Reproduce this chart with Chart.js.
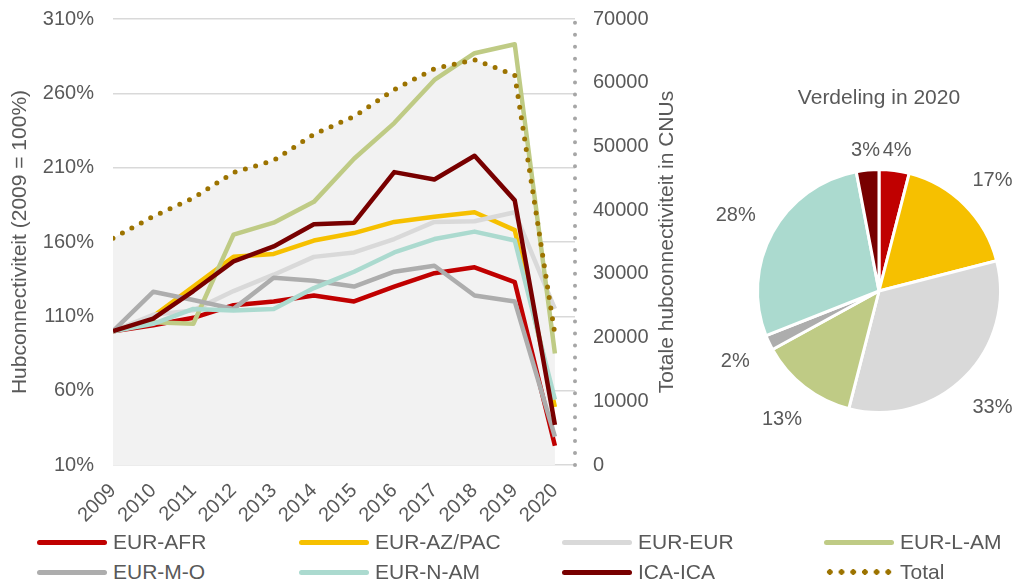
<!DOCTYPE html>
<html>
<head>
<meta charset="utf-8">
<script src="https://cdn.jsdelivr.net/npm/chart.js@4.4.0/dist/chart.umd.min.js"></script>
<style>
body{margin:0;background:#fff;width:1026px;height:585px;overflow:hidden;position:relative;font-family:"Liberation Sans",Arial,sans-serif;}
#lineWrap{position:absolute;left:0;top:0;width:690px;height:535px;}
#pieWrap{position:absolute;left:690px;top:0;width:336px;height:585px;}
.item{position:absolute;height:30px;display:flex;align-items:center;font-size:21px;color:#595959;white-space:nowrap;}
.swatch{width:70px;height:5px;border-radius:3px;margin-right:6px;}
.dots{height:6px;border-radius:0;background:radial-gradient(circle,#9c7300 2.6px,transparent 3px) 0 0/11.7px 6px repeat-x;}
</style>
</head>
<body>
<div id="lineWrap"><canvas id="lineChart" width="690" height="535"></canvas></div>
<div id="pieWrap"><canvas id="pieChart" width="336" height="585"></canvas></div>
<div id="legend"></div>
<script>
// jaren en reeksen (hubconnectiviteit, 2009 = 100%)
const years = [2009, 2010, 2011, 2012, 2013, 2014, 2015, 2016, 2017, 2018, 2019, 2020];
const names = ['EUR-AFR', 'EUR-AZ/PAC', 'EUR-EUR', 'EUR-L-AM', 'EUR-M-O', 'EUR-N-AM', 'ICA-ICA'];
const colors = ['#c00000', '#f6c000', '#d9d9d9', '#bfcb85', '#adadad', '#abdacf', '#780000'];

const eurAfr  = [100, 104, 109, 117.5, 120, 124, 120, 130, 139, 143, 133, 23];
const eurAzPac = [100, 110, 130, 150, 152, 161, 166, 173.5, 177, 180, 168, 49];
const eurEur  = [100, 111, 114, 127, 138, 150, 153, 162, 173.5, 174, 180, 115];
const eurLAm  = [100, 106, 105, 165, 173, 187, 216, 240, 269, 287, 293, 85];
const eurMO   = [100, 126.5, 121, 115, 136, 134, 130, 140, 144, 124, 120, 29];
const eurNAm  = [100, 105, 115, 114, 115, 129, 140, 153, 162, 167, 161, 54];
const icaIca  = [100, 108.5, 127, 147, 157, 172, 173, 207, 202, 218, 188, 37];

const totalName = 'Total';
const totalColor = '#9c7300';
const total = [35600, 39000, 41900, 45900, 47800, 51900, 54700, 58900, 62200, 63600, 61200, 20500];

// verdeling in 2020
const pieTitle = 'Verdeling in 2020';
const pieValues = [4, 17, 33, 13, 2, 28, 3];

const leftTitle = 'Hubconnectiviteit (2009 = 100%)';
const rightTitle = 'Totale hubconnectiviteit in CNUs';

const textColor = '#595959';
Chart.defaults.font.family = '"Liberation Sans", Arial, sans-serif';
Chart.defaults.font.size = 20;
Chart.defaults.color = textColor;

const series = [eurAfr, eurAzPac, eurEur, eurLAm, eurMO, eurNAm, icaIca];

const datasets = series.map((s, i) => ({
  label: names[i],
  data: s.map((v, j) => ({x: years[j], y: v})),
  borderColor: colors[i],
  backgroundColor: colors[i],
  borderWidth: 4.5,
  pointRadius: 0,
  borderJoinStyle: 'round',
  tension: 0,
  yAxisID: 'y',
  order: -i
}));
datasets.push({
  label: totalName,
  data: total.map((v, j) => ({x: years[j], y: v})),
  borderColor: totalColor,
  backgroundColor: '#f2f2f2',
  fill: 'origin',
  borderWidth: 5,
  borderDash: [0, 10.7],
  borderCapStyle: 'round',
  pointRadius: 0,
  tension: 0,
  yAxisID: 'y1',
  order: -10
});

const noPad = sc => { sc.paddingTop = 0; sc.paddingBottom = 0; sc.paddingLeft = 0; sc.paddingRight = 0; };

const extras = {
  id: 'extras',
  beforeDatasetsDraw(chart) {
    const s = chart.scales.y1;
    const ctx = chart.ctx;
    ctx.save();
    ctx.strokeStyle = '#a6a6a6';
    ctx.lineWidth = 4;
    ctx.lineCap = 'round';
    ctx.setLineDash([0, 11.95]);
    ctx.beginPath();
    ctx.moveTo(s.left, s.bottom);
    ctx.lineTo(s.left, s.top);
    ctx.stroke();
    ctx.restore();
  },
  afterDraw(chart) {
    const s = chart.scales.y1;
    const ctx = chart.ctx;
    ctx.save();
    ctx.fillStyle = textColor;
    ctx.font = '21px "Liberation Sans", Arial, sans-serif';
    ctx.textAlign = 'center';
    ctx.textBaseline = 'middle';
    ctx.translate(s.right - 23, (s.top + s.bottom) / 2);
    ctx.rotate(-Math.PI / 2);
    ctx.fillText(rightTitle, 0, 0);
    ctx.restore();
  }
};

new Chart(document.getElementById('lineChart'), {
  type: 'line',
  data: {datasets: datasets},
  options: {
    responsive: false,
    animation: false,
    devicePixelRatio: 1,
    layout: {padding: {top: 19, left: 0, right: 0, bottom: 0}},
    plugins: {
      legend: {display: false},
      tooltip: {enabled: false},
      filler: {propagate: false, drawTime: 'beforeDatasetsDraw'}
    },
    scales: {
      x: {
        type: 'linear',
        min: 2009,
        max: 2020.5,
        grid: {display: false, drawTicks: false},
        border: {display: false},
        ticks: {
          stepSize: 1,
          includeBounds: false,
          autoSkip: false,
          minRotation: 45,
          maxRotation: 45,
          padding: 14,
          callback: v => String(v)
        },
        afterBuildTicks: sc => { sc.ticks = sc.ticks.filter(t => Number.isInteger(t.value)); },
        afterFit: sc => { sc.height = 70; noPad(sc); }
      },
      y: {
        position: 'left',
        min: 10,
        max: 310,
        grid: {color: '#d9d9d9', lineWidth: 1.5, drawTicks: false},
        border: {display: false},
        ticks: {stepSize: 50, padding: 19, callback: v => v + '%'},
        title: {display: true, text: leftTitle, font: {size: 21}, color: textColor, padding: {top: 8, bottom: 0}},
        afterFit: sc => { sc.width = 113; noPad(sc); }
      },
      y1: {
        position: 'right',
        min: 0,
        max: 70000,
        grid: {display: false, drawTicks: false},
        border: {display: false},
        ticks: {stepSize: 10000, padding: 18, callback: v => String(v)},
        afterFit: sc => { sc.width = 115; noPad(sc); }
      }
    }
  },
  plugins: [extras]
});

// taartdiagram
const pieLabels = {
  id: 'pieLabels',
  afterDraw(chart) {
    const ctx = chart.ctx;
    const meta = chart.getDatasetMeta(0);
    const sum = pieValues.reduce((a, b) => a + b, 0);
    ctx.save();
    ctx.fillStyle = textColor;
    ctx.font = '20px "Liberation Sans", Arial, sans-serif';
    ctx.textAlign = 'center';
    ctx.textBaseline = 'middle';
    meta.data.forEach((arc, i) => {
      const p = arc.getProps(['x', 'y', 'startAngle', 'endAngle', 'outerRadius'], true);
      const mid = (p.startAngle + p.endAngle) / 2;
      const txt = Math.round(pieValues[i] / sum * 100) + '%';
      const w = ctx.measureText(txt).width + 22;
      const h = 20;
      const dx = Math.cos(mid), dy = Math.sin(mid);
      const d = p.outerRadius + 10 + Math.abs(dx) * w / 2 + Math.abs(dy) * h / 2;
      ctx.fillText(txt, p.x + dx * d, p.y + dy * d + 3);
    });
    ctx.font = '21px "Liberation Sans", Arial, sans-serif';
    const a0 = meta.data[0];
    ctx.fillText(pieTitle, a0.x, 98);
    ctx.restore();
  }
};

new Chart(document.getElementById('pieChart'), {
  type: 'pie',
  data: {
    labels: names,
    datasets: [{
      data: pieValues,
      backgroundColor: colors,
      borderColor: '#ffffff',
      borderWidth: 3
    }]
  },
  options: {
    responsive: false,
    animation: false,
    devicePixelRatio: 1,
    layout: {padding: {left: 66, right: 24, top: 168, bottom: 171}},
    plugins: {legend: {display: false}, tooltip: {enabled: false}}
  },
  plugins: [pieLabels]
});

// legenda
const legend = document.getElementById('legend');
const colX = [37, 299, 562, 824];
const rowY = [542, 572];
const entries = names.map((n, i) => ({name: n, color: colors[i]}));
entries.push({name: totalName, color: null});
entries.forEach((e, i) => {
  const d = document.createElement('div');
  d.className = 'item';
  d.style.left = colX[i % 4] + 'px';
  d.style.top = (rowY[Math.floor(i / 4)] - 15) + 'px';
  const sw = document.createElement('span');
  sw.className = e.color ? 'swatch' : 'swatch dots';
  if (e.color) sw.style.background = e.color;
  const t = document.createElement('span');
  t.textContent = e.name;
  d.appendChild(sw);
  d.appendChild(t);
  legend.appendChild(d);
});
</script>
</body>
</html>
